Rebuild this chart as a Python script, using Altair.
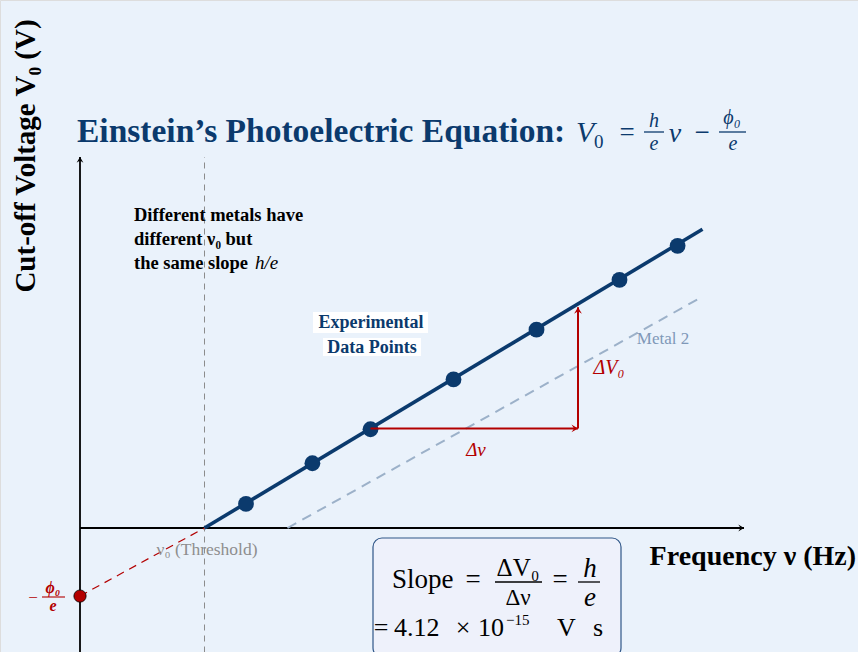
import altair as alt
import pandas as pd

# ---- data (axis units: frequency along x, cut-off voltage along y) ----
freq = [2.0, 2.8, 3.5, 4.5, 5.5, 6.5, 7.2]
volt = [0.29, 0.78, 1.19, 1.79, 2.39, 2.99, 3.40]

fit_x = [1.5, 7.5]          # metal 1 fit line
fit_y = [0.0, 3.6]
metal2_x = [2.5, 7.45]      # metal 2 (parallel line, higher threshold)
metal2_y = [0.0, 2.76]
threshold = 1.5
intercept = -0.82           # -phi0/e on the voltage axis
x_axis_end = 8.0
y_axis = [-1.5, 4.47]
dnu_from, dnu_to, dnu_level = 3.5, 6.0, 1.2
dv_top = 2.66

W, H = 858, 652
UNIT = 83.0
X_DOM = [-80 / UNIT, (W - 80) / UNIT]
Y_DOM = [(528 - H) / UNIT, 528 / UNIT]
xs = alt.Scale(domain=X_DOM, nice=False, zero=False)
ys = alt.Scale(domain=Y_DOM, nice=False, zero=False)

BLUE = "#0b3a6d"
RED = "#b30000"
SERIF = "Liberation Serif"
ONE = alt.Data(values=[{}])

ARROW = "M0,0 L-1,-0.6 L-0.6,0 L-1,0.6 Z"


def seg_df(rows):
    return pd.DataFrame(rows, columns=["x", "y", "x2", "y2"])


def segments(rows, color, width, dash=None):
    kw = dict(color=color, strokeWidth=width)
    if dash:
        kw["strokeDash"] = dash
    return alt.Chart(seg_df(rows)).mark_rule(**kw).encode(
        x=alt.X("x:Q", scale=xs, axis=None),
        y=alt.Y("y:Q", scale=ys, axis=None),
        x2="x2:Q",
        y2="y2:Q",
    )


def heads(rows, color, size):
    df = pd.DataFrame(rows, columns=["x", "y", "angle"])
    return alt.Chart(df).mark_point(
        shape=ARROW, filled=True, color=color, size=size, opacity=1
    ).encode(
        x=alt.X("x:Q", scale=xs, axis=None),
        y=alt.Y("y:Q", scale=ys, axis=None),
        angle=alt.Angle("angle:Q", scale=None),
    )


def label(text, x, y, size, color="black", weight="normal", style="normal",
          align="center", baseline="alphabetic", angle=0, font=SERIF):
    return alt.Chart(ONE).mark_text(
        text=text, fontSize=size, color=color, fontWeight=weight,
        fontStyle=style, align=align, baseline=baseline, angle=angle, font=font,
    ).encode(x=alt.value(x), y=alt.value(y))


def bar(x0, x1, y, color, width=1.2):
    return alt.Chart(ONE).mark_rule(color=color, strokeWidth=width).encode(
        x=alt.value(x0), x2=alt.value(x1), y=alt.value(y)
    )


layers = []

# axes
layers.append(segments([[0, 0, x_axis_end, 0], [0, y_axis[0], 0, y_axis[1]]], "black", 1.8))
layers.append(heads([[x_axis_end, 0, 0], [0, y_axis[1], 270]], "black", 130))

# threshold marker
layers.append(segments([[threshold, y_axis[0], threshold, y_axis[1]]], "#8c8c8c", 1, [6, 5]))

# metal 2 line
layers.append(segments([[metal2_x[0], metal2_y[0], metal2_x[1], metal2_y[1]]], "#9cb1c9", 2, [10, 7]))

# extrapolation to the voltage intercept
layers.append(segments([[0, intercept, threshold, 0]], RED, 1.2, [8, 6]))

# fitted line and data points
layers.append(segments([[fit_x[0], fit_y[0], fit_x[1], fit_y[1]]], BLUE, 3.6))
pts = pd.DataFrame({"freq": freq, "volt": volt})
layers.append(alt.Chart(pts).mark_circle(size=250, color=BLUE, opacity=1).encode(
    x=alt.X("freq:Q", scale=xs, axis=None), y=alt.Y("volt:Q", scale=ys, axis=None)))

# slope triangle
layers.append(segments([[dnu_from, dnu_level, dnu_to, dnu_level],
                        [dnu_to, dnu_level, dnu_to, dv_top]], RED, 2))
layers.append(heads([[dnu_to, dnu_level, 0], [dnu_to, dv_top, 270]], RED, 170))

# intercept dot
icpt = pd.DataFrame({"x": [0.0], "y": [intercept]})
layers.append(alt.Chart(icpt).mark_circle(size=150, color=RED, opacity=1, stroke="black",
                                         strokeWidth=0.8).encode(
    x=alt.X("x:Q", scale=xs, axis=None), y=alt.Y("y:Q", scale=ys, axis=None)))

# ---- title ----
layers += [
    label("Einstein’s Photoelectric Equation:", 77, 142, 33.5, BLUE, "bold", align="left"),
    label("V", 576, 142, 30, BLUE, style="italic", align="left"),
    label("0", 594, 148, 19, BLUE, align="left"),
    label("=", 627, 141, 27, BLUE),
    label("h", 654, 127, 20, BLUE, style="italic"),
    bar(644, 664, 132, BLUE, 1.3),
    label("e", 654, 150, 20, BLUE, style="italic"),
    label("ν", 675, 142, 28, BLUE, style="italic"),
    label("−", 702, 141, 27, BLUE),
    label("ϕ₀", 732, 124, 20, BLUE, style="italic"),
    bar(719, 746, 132, BLUE, 1.3),
    label("e", 733, 150, 20, BLUE, style="italic"),
]

# ---- axis titles ----
layers += [
    label("Cut-off Voltage V₀ (V)", 35, 156, 29, "black", "bold", angle=270),
    label("Frequency ν (Hz)", 856, 565, 28, "black", "bold", align="right"),
]

# ---- annotations ----
layers += [
    label("Different metals have", 134, 221, 18.5, "black", "bold", align="left"),
    label("different ν₀ but", 134, 245, 18.5, "black", "bold", align="left"),
    label("the same slope", 134, 269, 18.5, "black", "bold", align="left"),
    label("h/e", 255, 269, 19, "black", style="italic", align="left"),
]

boxes = pd.DataFrame({"x": [313, 323], "x2": [428, 421], "y": [312, 338], "y2": [333, 356]})
layers.append(alt.Chart(boxes).mark_rect(color="white").encode(
    x=alt.X("x:Q", scale=None), x2="x2:Q", y=alt.Y("y:Q", scale=None), y2="y2:Q"))
layers += [
    label("Experimental", 371, 328, 18, BLUE, "bold"),
    label("Data Points", 372, 353, 18, BLUE, "bold"),
    label("Metal 2", 663, 344, 17, "#7f98b8"),
    label("Δν", 476, 456, 19, RED, style="italic"),
    label("ΔV₀", 609, 374, 20, RED, style="italic"),
    label("ν₀ (Threshold)", 207, 555, 17.5, "#8e8e8e"),
    label("−", 33, 603, 17, RED),
    label("ϕ₀", 53, 593, 16, RED, "bold", "italic"),
    bar(42, 65, 597, RED, 1.1),
    label("e", 53, 611, 16, RED, "bold", "italic"),
]

# ---- slope box ----
layers.append(alt.Chart(ONE).mark_rect(
    fill="#eef1fb", stroke="#2f5688", strokeWidth=1.2, cornerRadius=9
).encode(x=alt.value(373), x2=alt.value(621), y=alt.value(538), y2=alt.value(657)))
layers += [
    label("Slope", 392, 588, 27, align="left"),
    label("=", 473, 588, 27),
    label("ΔV₀", 518, 576, 25),
    bar(495, 542, 582, "black", 1.3),
    label("Δν", 518, 605, 23),
    label("=", 560, 588, 27),
    label("h", 590, 577, 27, style="italic"),
    bar(578, 600, 582, "black", 1.3),
    label("e", 590, 606, 27, style="italic"),
    label("=", 381, 636, 26),
    label("4.12", 394, 636, 26, align="left"),
    label("×", 463, 636, 26),
    label("10", 478, 636, 26, align="left"),
    label("−15", 506, 625, 15, align="left"),
    label("V", 557, 636, 26, align="left"),
    label("s", 593, 636, 26, align="left"),
]

chart = alt.layer(*layers).properties(
    width=W, height=H, padding=0, autosize=alt.AutoSizeParams(type="none")
).configure_view(stroke=None).configure(background="#eaf2fb")

chart.save("out.html", embed_options={"renderer": "svg", "actions": False})
